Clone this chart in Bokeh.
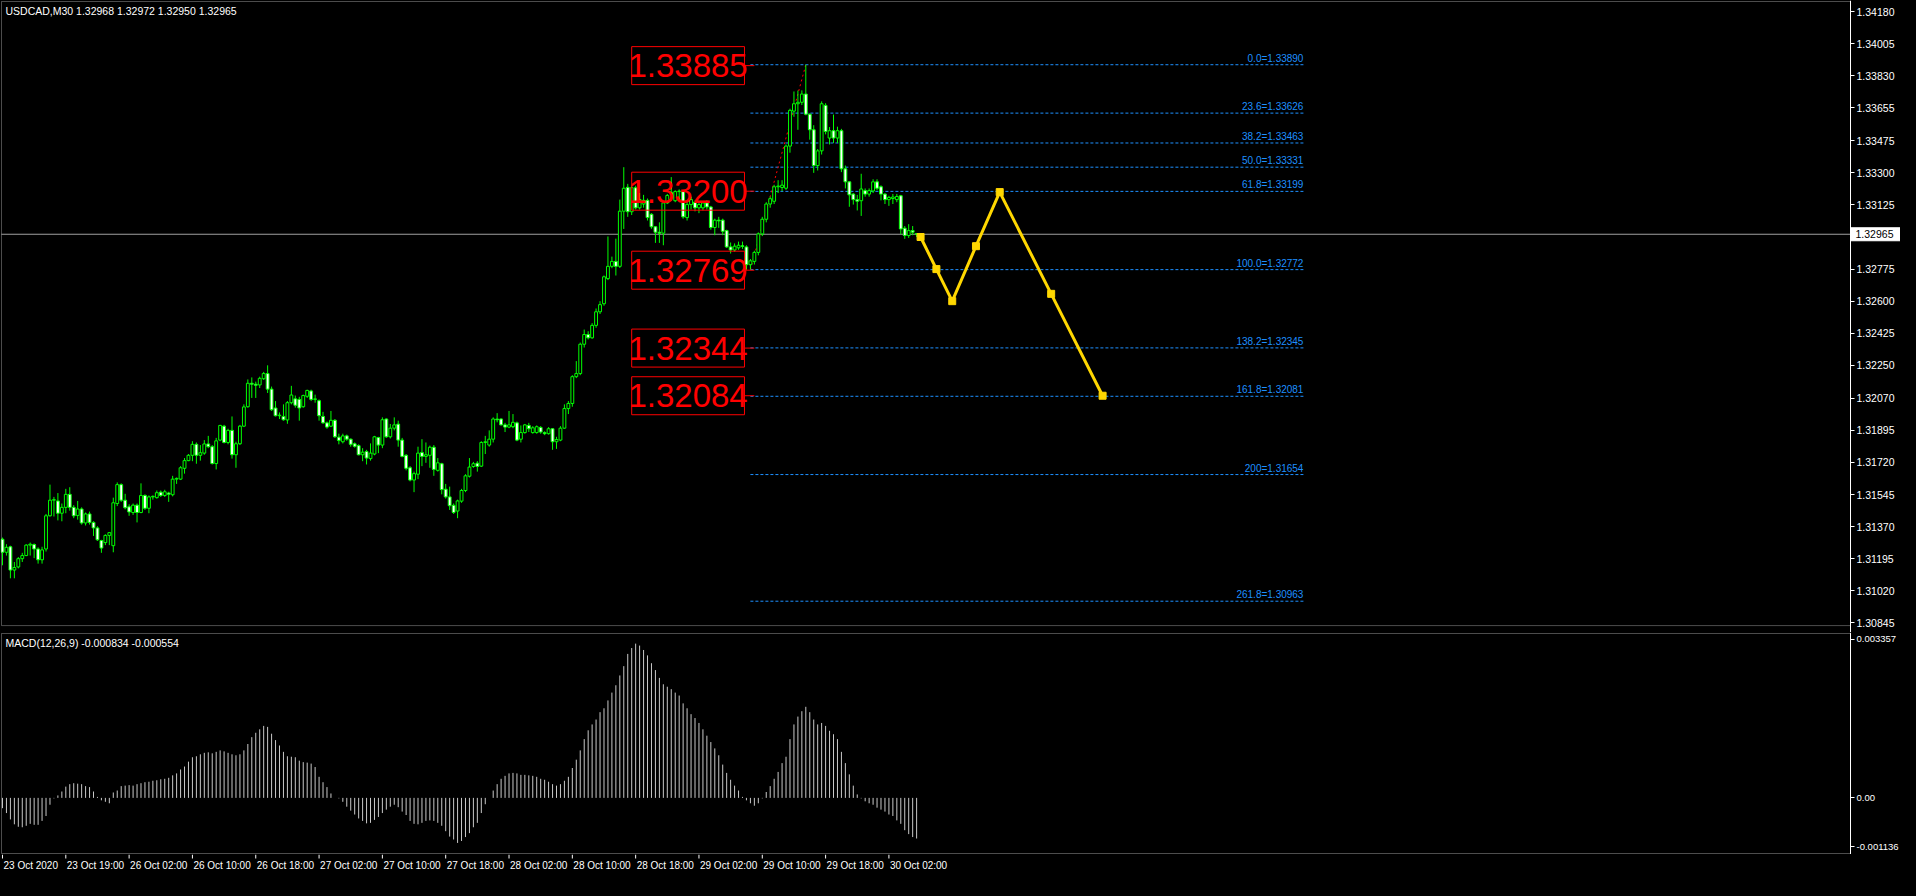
from bokeh.plotting import figure
from bokeh.models import (Range1d, FixedTicker, PrintfTickFormatter, ColumnDataSource,
                          LinearAxis, BoxAnnotation)
from bokeh.layouts import column
from bokeh.embed import file_html
from bokeh.resources import INLINE
from bokeh.core.properties import value

FONT = "Liberation Sans"

SYMBOL_TITLE = "USDCAD,M30  1.32968 1.32972 1.32950 1.32965"
MACD_TITLE = "MACD(12,26,9) -0.000834 -0.000554"

OPEN = [
    1.31301, 1.31230, 1.31260, 1.31133, 1.31150, 1.31195, 1.31212, 1.31269, 1.31272, 1.31248,
    1.31189, 1.31248, 1.31429, 1.31514, 1.31510, 1.31443, 1.31475, 1.31546, 1.31475, 1.31431,
    1.31466, 1.31390, 1.31439, 1.31393, 1.31363, 1.31294, 1.31283, 1.31322, 1.31266, 1.31496,
    1.31599, 1.31514, 1.31478, 1.31447, 1.31487, 1.31447, 1.31540, 1.31470, 1.31532, 1.31528,
    1.31558, 1.31540, 1.31553, 1.31544, 1.31629, 1.31629, 1.31688, 1.31730, 1.31759, 1.31819,
    1.31759, 1.31771, 1.31821, 1.31806, 1.31714, 1.31842, 1.31918, 1.31829, 1.31895, 1.31762,
    1.31822, 1.31918, 1.32024, 1.32152, 1.32147, 1.32143, 1.32177, 1.32205, 1.32120, 1.32017,
    1.31975, 1.31971, 1.31952, 1.32046, 1.32067, 1.32064, 1.32024, 1.32081, 1.32110, 1.32064,
    1.32057, 1.31971, 1.31936, 1.31918, 1.31950, 1.31858, 1.31833, 1.31865, 1.31847, 1.31822,
    1.31812, 1.31762, 1.31780, 1.31741, 1.31766, 1.31856, 1.31815, 1.31957, 1.31860, 1.31907,
    1.31929, 1.31842, 1.31759, 1.31691, 1.31624, 1.31656, 1.31774, 1.31753, 1.31759, 1.31803,
    1.31677, 1.31713, 1.31574, 1.31532, 1.31486, 1.31455, 1.31509, 1.31567, 1.31645, 1.31698,
    1.31716, 1.31700, 1.31829, 1.31815, 1.31847, 1.31957, 1.31957, 1.31925, 1.31913, 1.31915,
    1.31936, 1.31847, 1.31883, 1.31922, 1.31883, 1.31883, 1.31911, 1.31883, 1.31877, 1.31904,
    1.31833, 1.31842, 1.31907, 1.32014, 1.32042, 1.32188, 1.32205, 1.32365, 1.32418, 1.32400,
    1.32468, 1.32542, 1.32586, 1.32723, 1.32790, 1.32817, 1.32790, 1.33091, 1.33221, 1.33088,
    1.33219, 1.33109, 1.33130, 1.33150, 1.33074, 1.33006, 1.32976, 1.32971, 1.33136, 1.33184,
    1.33148, 1.33198, 1.33198, 1.33056, 1.33127, 1.33141, 1.33109, 1.33109, 1.33136, 1.33114,
    1.33002, 1.33042, 1.33042, 1.32985, 1.32896, 1.32879, 1.32891, 1.32902, 1.32896, 1.32799,
    1.32817, 1.32866, 1.32967, 1.33047, 1.33130, 1.33145, 1.33224, 1.33220, 1.33216, 1.33446,
    1.33637, 1.33677, 1.33685, 1.33730, 1.33620, 1.33535, 1.33340, 1.33420, 1.33668, 1.33490,
    1.33530, 1.33490, 1.33530, 1.33322, 1.33251, 1.33184, 1.33154, 1.33148, 1.33203, 1.33184,
    1.33201, 1.33251, 1.33224, 1.33184, 1.33154, 1.33160, 1.33154, 1.33175, 1.32998, 1.32958,
    1.32985, 1.32968,
]

HIGH = [
    1.31310, 1.31274, 1.31266, 1.31177, 1.31204, 1.31227, 1.31274, 1.31283, 1.31278, 1.31257,
    1.31260, 1.31439, 1.31599, 1.31532, 1.31553, 1.31496, 1.31576, 1.31585, 1.31487, 1.31510,
    1.31475, 1.31447, 1.31452, 1.31399, 1.31372, 1.31298, 1.31328, 1.31340, 1.31528, 1.31611,
    1.31606, 1.31549, 1.31492, 1.31496, 1.31496, 1.31606, 1.31546, 1.31540, 1.31540, 1.31567,
    1.31567, 1.31571, 1.31560, 1.31647, 1.31638, 1.31700, 1.31744, 1.31766, 1.31836, 1.31829,
    1.31815, 1.31842, 1.31865, 1.31815, 1.31854, 1.31925, 1.31925, 1.31904, 1.31971, 1.31833,
    1.31925, 1.32037, 1.32173, 1.32184, 1.32161, 1.32188, 1.32214, 1.32250, 1.32134, 1.32055,
    1.31993, 1.32037, 1.32055, 1.32138, 1.32085, 1.32078, 1.32090, 1.32117, 1.32117, 1.32090,
    1.32064, 1.31996, 1.31943, 1.32001, 1.31957, 1.31877, 1.31877, 1.31872, 1.31851, 1.31829,
    1.31819, 1.31798, 1.31789, 1.31824, 1.31865, 1.31860, 1.31966, 1.31961, 1.31930, 1.31966,
    1.31948, 1.31854, 1.31766, 1.31700, 1.31670, 1.31806, 1.31847, 1.31829, 1.31812, 1.31815,
    1.31744, 1.31718, 1.31603, 1.31588, 1.31496, 1.31517, 1.31576, 1.31656, 1.31744, 1.31723,
    1.31727, 1.31836, 1.31865, 1.31895, 1.31966, 1.31989, 1.31961, 1.31936, 1.32001, 1.31984,
    1.31943, 1.31922, 1.31930, 1.31936, 1.31918, 1.31922, 1.31918, 1.31890, 1.31913, 1.31907,
    1.31860, 1.31918, 1.32037, 1.32055, 1.32196, 1.32273, 1.32374, 1.32445, 1.32436, 1.32480,
    1.32560, 1.32600, 1.32740, 1.32953, 1.32843, 1.32941, 1.33154, 1.33331, 1.33240, 1.33235,
    1.33230, 1.33190, 1.33180, 1.33160, 1.33080, 1.33010, 1.33030, 1.33145, 1.33185, 1.33277,
    1.33205, 1.33210, 1.33205, 1.33140, 1.33170, 1.33150, 1.33140, 1.33145, 1.33150, 1.33120,
    1.33050, 1.33060, 1.33050, 1.32990, 1.32920, 1.32915, 1.32925, 1.32925, 1.32905, 1.32830,
    1.32875, 1.32975, 1.33060, 1.33140, 1.33170, 1.33235, 1.33260, 1.33260, 1.33455, 1.33650,
    1.33744, 1.33749, 1.33750, 1.33890, 1.33625, 1.33560, 1.33430, 1.33690, 1.33680, 1.33550,
    1.33618, 1.33552, 1.33540, 1.33340, 1.33255, 1.33190, 1.33180, 1.33295, 1.33215, 1.33215,
    1.33265, 1.33265, 1.33232, 1.33190, 1.33175, 1.33185, 1.33185, 1.33180, 1.33010, 1.33020,
    1.33010, 1.32972,
]

LOW = [
    1.31159, 1.31212, 1.31088, 1.31088, 1.31142, 1.31177, 1.31209, 1.31212, 1.31198, 1.31168,
    1.31168, 1.31234, 1.31425, 1.31425, 1.31404, 1.31399, 1.31443, 1.31457, 1.31416, 1.31408,
    1.31381, 1.31376, 1.31381, 1.31319, 1.31292, 1.31227, 1.31269, 1.31269, 1.31230, 1.31482,
    1.31505, 1.31464, 1.31429, 1.31434, 1.31393, 1.31443, 1.31461, 1.31443, 1.31517, 1.31523,
    1.31532, 1.31532, 1.31505, 1.31535, 1.31603, 1.31624, 1.31659, 1.31727, 1.31727, 1.31713,
    1.31730, 1.31762, 1.31798, 1.31709, 1.31682, 1.31836, 1.31824, 1.31819, 1.31741, 1.31691,
    1.31815, 1.31913, 1.32019, 1.32072, 1.32072, 1.32126, 1.32170, 1.32099, 1.32001, 1.31971,
    1.31957, 1.31948, 1.31931, 1.32037, 1.32019, 1.31948, 1.32019, 1.32072, 1.32055, 1.32046,
    1.31948, 1.31931, 1.31904, 1.31913, 1.31854, 1.31819, 1.31824, 1.31838, 1.31806, 1.31801,
    1.31759, 1.31727, 1.31709, 1.31730, 1.31759, 1.31771, 1.31798, 1.31854, 1.31851, 1.31895,
    1.31806, 1.31748, 1.31677, 1.31617, 1.31558, 1.31629, 1.31700, 1.31718, 1.31691, 1.31647,
    1.31670, 1.31546, 1.31523, 1.31461, 1.31439, 1.31416, 1.31500, 1.31558, 1.31638, 1.31691,
    1.31670, 1.31695, 1.31766, 1.31806, 1.31829, 1.31939, 1.31922, 1.31886, 1.31907, 1.31907,
    1.31836, 1.31829, 1.31877, 1.31886, 1.31877, 1.31877, 1.31877, 1.31869, 1.31872, 1.31789,
    1.31794, 1.31836, 1.31904, 1.31984, 1.32024, 1.32180, 1.32196, 1.32347, 1.32391, 1.32395,
    1.32455, 1.32530, 1.32575, 1.32715, 1.32780, 1.32740, 1.32781, 1.32994, 1.33060, 1.33070,
    1.33100, 1.33100, 1.33110, 1.33040, 1.32995, 1.32918, 1.32918, 1.32905, 1.33130, 1.33150,
    1.33140, 1.33140, 1.33050, 1.33040, 1.33100, 1.33090, 1.33080, 1.33095, 1.33100, 1.32990,
    1.32960, 1.33000, 1.32960, 1.32890, 1.32860, 1.32870, 1.32880, 1.32885, 1.32772, 1.32772,
    1.32800, 1.32850, 1.32955, 1.33030, 1.33110, 1.33130, 1.33190, 1.33200, 1.33207, 1.33410,
    1.33606, 1.33535, 1.33670, 1.33614, 1.33481, 1.33300, 1.33313, 1.33400, 1.33510, 1.33455,
    1.33463, 1.33463, 1.33304, 1.33215, 1.33115, 1.33127, 1.33095, 1.33065, 1.33170, 1.33170,
    1.33190, 1.33205, 1.33150, 1.33130, 1.33120, 1.33130, 1.33140, 1.32966, 1.32940, 1.32945,
    1.32960, 1.32950,
]

CLOSE = [
    1.31230, 1.31257, 1.31133, 1.31147, 1.31195, 1.31212, 1.31269, 1.31274, 1.31248, 1.31189,
    1.31243, 1.31429, 1.31514, 1.31517, 1.31443, 1.31475, 1.31546, 1.31475, 1.31429, 1.31466,
    1.31390, 1.31439, 1.31393, 1.31363, 1.31298, 1.31253, 1.31322, 1.31337, 1.31500, 1.31599,
    1.31514, 1.31473, 1.31450, 1.31487, 1.31447, 1.31540, 1.31470, 1.31532, 1.31535, 1.31555,
    1.31540, 1.31560, 1.31546, 1.31629, 1.31633, 1.31691, 1.31730, 1.31759, 1.31819, 1.31759,
    1.31773, 1.31821, 1.31806, 1.31714, 1.31838, 1.31922, 1.31829, 1.31895, 1.31762, 1.31822,
    1.31918, 1.32023, 1.32152, 1.32147, 1.32141, 1.32179, 1.32205, 1.32120, 1.32008, 1.31975,
    1.31978, 1.31953, 1.32046, 1.32088, 1.32032, 1.32017, 1.32085, 1.32113, 1.32064, 1.32067,
    1.31975, 1.31936, 1.31913, 1.31950, 1.31860, 1.31840, 1.31865, 1.31847, 1.31819, 1.31808,
    1.31762, 1.31776, 1.31744, 1.31771, 1.31860, 1.31815, 1.31953, 1.31860, 1.31907, 1.31925,
    1.31842, 1.31753, 1.31688, 1.31624, 1.31659, 1.31771, 1.31753, 1.31762, 1.31803, 1.31682,
    1.31718, 1.31572, 1.31532, 1.31484, 1.31447, 1.31510, 1.31567, 1.31647, 1.31695, 1.31713,
    1.31698, 1.31829, 1.31833, 1.31847, 1.31957, 1.31953, 1.31925, 1.31913, 1.31925, 1.31939,
    1.31842, 1.31883, 1.31925, 1.31904, 1.31909, 1.31915, 1.31886, 1.31877, 1.31904, 1.31833,
    1.31845, 1.31907, 1.32014, 1.32042, 1.32188, 1.32205, 1.32365, 1.32418, 1.32400, 1.32468,
    1.32542, 1.32581, 1.32733, 1.32790, 1.32817, 1.32790, 1.33091, 1.33216, 1.33088, 1.33219,
    1.33109, 1.33155, 1.33150, 1.33056, 1.33006, 1.32976, 1.32971, 1.33136, 1.33177, 1.33194,
    1.33198, 1.33201, 1.33060, 1.33127, 1.33154, 1.33109, 1.33127, 1.33136, 1.33114, 1.33002,
    1.33042, 1.33038, 1.32981, 1.32896, 1.32879, 1.32900, 1.32905, 1.32898, 1.32799, 1.32820,
    1.32866, 1.32967, 1.33047, 1.33130, 1.33159, 1.33224, 1.33228, 1.33233, 1.33446, 1.33641,
    1.33677, 1.33685, 1.33730, 1.33620, 1.33535, 1.33340, 1.33420, 1.33677, 1.33526, 1.33530,
    1.33490, 1.33530, 1.33322, 1.33251, 1.33180, 1.33154, 1.33145, 1.33212, 1.33184, 1.33203,
    1.33251, 1.33216, 1.33184, 1.33154, 1.33166, 1.33168, 1.33171, 1.32994, 1.32958, 1.32985,
    1.32976, 1.32965,
]

MACD_HIST = [
    -0.00021, -0.00031, -0.00044, -0.00054, -0.00059, -0.00060, -0.00057, -0.00053, -0.00055, -0.00055,
    -0.00047, -0.00037, -0.00014, -0.00001, 0.00005, 0.00013, 0.00023, 0.00028, 0.00030, 0.00029,
    0.00028, 0.00024, 0.00022, 0.00013, 0.00002, -0.00005, -0.00008, -0.00011, 0.00011, 0.00015,
    0.00024, 0.00025, 0.00026, 0.00025, 0.00028, 0.00030, 0.00032, 0.00033, 0.00035, 0.00036,
    0.00038, 0.00039, 0.00041, 0.00046, 0.00050, 0.00058, 0.00064, 0.00074, 0.00083, 0.00085,
    0.00089, 0.00092, 0.00093, 0.00091, 0.00094, 0.00097, 0.00095, 0.00092, 0.00089, 0.00087,
    0.00089, 0.00097, 0.00110, 0.00124, 0.00133, 0.00140, 0.00147, 0.00145, 0.00131, 0.00118,
    0.00107, 0.00094, 0.00085, 0.00084, 0.00083, 0.00076, 0.00073, 0.00072, 0.00070, 0.00063,
    0.00043, 0.00032, 0.00022, 0.00009, 0.00000, -0.00001, -0.00008, -0.00018, -0.00026, -0.00034,
    -0.00042, -0.00047, -0.00052, -0.00051, -0.00045, -0.00039, -0.00031, -0.00024, -0.00018, -0.00014,
    -0.00019, -0.00028, -0.00035, -0.00047, -0.00053, -0.00054, -0.00051, -0.00047, -0.00046, -0.00047,
    -0.00051, -0.00057, -0.00068, -0.00079, -0.00085, -0.00092, -0.00088, -0.00080, -0.00072, -0.00060,
    -0.00051, -0.00031, -0.00013, 0.00000, 0.00015, 0.00028, 0.00039, 0.00045, 0.00050, 0.00051,
    0.00050, 0.00047, 0.00047, 0.00046, 0.00045, 0.00043, 0.00039, 0.00037, 0.00033, 0.00028,
    0.00025, 0.00028, 0.00035, 0.00043, 0.00061, 0.00078, 0.00097, 0.00120, 0.00138, 0.00150,
    0.00160, 0.00175, 0.00183, 0.00199, 0.00215, 0.00230, 0.00250, 0.00269, 0.00294, 0.00306,
    0.00315, 0.00311, 0.00302, 0.00291, 0.00275, 0.00261, 0.00245, 0.00232, 0.00227, 0.00222,
    0.00215, 0.00209, 0.00193, 0.00183, 0.00171, 0.00163, 0.00153, 0.00140, 0.00127, 0.00114,
    0.00101, 0.00087, 0.00068, 0.00051, 0.00037, 0.00025, 0.00015, 0.00002, -0.00005, -0.00011,
    -0.00016, -0.00011, -0.00001, 0.00012, 0.00024, 0.00039, 0.00053, 0.00071, 0.00084, 0.00120,
    0.00150, 0.00166, 0.00177, 0.00186, 0.00175, 0.00160, 0.00150, 0.00153, 0.00147, 0.00137,
    0.00130, 0.00120, 0.00094, 0.00071, 0.00048, 0.00025, 0.00007, -0.00001, -0.00007, -0.00011,
    -0.00014, -0.00020, -0.00024, -0.00028, -0.00034, -0.00037, -0.00046, -0.00053, -0.00066, -0.00074,
    -0.00080, -0.00083,
]

TIME_TICK_BARS = [0, 16, 32, 48, 64, 80, 96, 112, 128, 144, 160, 176, 192, 208, 224]
TIME_LABELS = ["23 Oct 2020", "23 Oct 19:00", "26 Oct 02:00", "26 Oct 10:00", "26 Oct 18:00",
               "27 Oct 02:00", "27 Oct 10:00", "27 Oct 18:00", "28 Oct 02:00", "28 Oct 10:00",
               "28 Oct 18:00", "29 Oct 02:00", "29 Oct 10:00", "29 Oct 18:00", "30 Oct 02:00"]

PRICE_TICKS = [1.34180, 1.34005, 1.33830, 1.33655, 1.33475, 1.33300, 1.33125, 1.32775,
               1.32600, 1.32425, 1.32250, 1.32070, 1.31895, 1.31720, 1.31545, 1.31370,
               1.31195, 1.31020, 1.30845]
CURRENT_PRICE = 1.32965

MACD_MIN, MACD_MAX = -0.001136, 0.003357
MACD_TICK_LABELS = ["0.003357", "0.00", "-0.001136"]

FIB_PCT = ["0.0", "23.6", "38.2", "50.0", "61.8", "100.0", "138.2", "161.8", "200", "261.8"]
FIB_PRICE = [1.33890, 1.33626, 1.33463, 1.33331, 1.33199, 1.32772, 1.32345, 1.32081, 1.31654, 1.30963]
FIB_START_BAR = 189
FIB_END_BAR = 328.75
TREND_BARS = [189, 203]
TREND_PRICES = [1.32772, 1.33890]

BOX_TEXTS = ["1.33885", "1.33200", "1.32769", "1.32344", "1.32084"]
BOX_LEFT_BAR, BOX_RIGHT_BAR, CONNECT_END_BAR = 159.0, 187.5, 190.0

ZZ_BARS = [232, 236, 240, 246, 252, 265, 278]
ZZ_PRICES = [1.32950, 1.32775, 1.32600, 1.32900, 1.33195, 1.32640, 1.32084]

# chart window (bars) and price window
X_MIN, X_MAX = -0.25, 467.0
Y_MIN, Y_MAX = 1.30830, 1.34235

# geometry: one frame spans chart + price scale; the scale is drawn inside it
FRAME_W = 1900
SCALE_PX = 50
X_END = X_MIN + (X_MAX - X_MIN) * FRAME_W / (FRAME_W - SCALE_PX)
X_START = X_MIN - (X_MAX - X_MIN) / (FRAME_W - SCALE_PX)          # 1px left margin
MAIN_H, MACD_H = 632, 222
Y_PAD = (Y_MAX - Y_MIN) / MAIN_H
M_PAD = (MACD_MAX - MACD_MIN) / MACD_H
MACD_TICK_POS = [MACD_MAX - 6 * M_PAD, 0.0, MACD_MIN + 7 * M_PAD]

BULL_FILL, BEAR_FILL, CANDLE_LINE = "black", "white", "#00FF00"
FIB_COLOR = "#1E90FF"
GOLD = "#FFD700"

n = len(CLOSE)
bars = list(range(n))
src = ColumnDataSource(dict(
    x=bars, o=OPEN, h=HIGH, l=LOW, c=CLOSE,
    top=[max(a, b) for a, b in zip(OPEN, CLOSE)],
    bot=[min(a, b) for a, b in zip(OPEN, CLOSE)],
    fill=[BEAR_FILL if c < o else BULL_FILL for o, c in zip(OPEN, CLOSE)],
))


def style_axis(ax, size="10.5px"):
    ax.axis_line_color = "white"
    ax.major_tick_line_color = "white"
    ax.minor_tick_line_color = None
    ax.major_tick_out = 4
    ax.major_tick_in = 0
    ax.major_label_text_color = "white"
    ax.major_label_text_font = FONT
    ax.major_label_text_font_size = size
    ax.major_label_standoff = 2


def base_fig(h, y0, y1, x_range=None):
    f = figure(frame_width=FRAME_W, frame_height=h,
               x_range=x_range if x_range is not None else Range1d(X_START, X_END),
               y_range=Range1d(y0, y1),
               output_backend="svg", toolbar_location=None,
               x_axis_location=None, y_axis_location=None,
               background_fill_color="black", border_fill_color="black",
               outline_line_color=None,
               min_border_left=0, min_border_top=0, min_border_bottom=0, min_border_right=0)
    f.grid.visible = False
    return f


# ---------------- main price panel ----------------
p = base_fig(MAIN_H, Y_MIN - 7 * Y_PAD, Y_MAX + Y_PAD)
price_axis = LinearAxis(fixed_location=X_MAX, ticker=FixedTicker(ticks=PRICE_TICKS),
                        formatter=PrintfTickFormatter(format="%.5f"))
style_axis(price_axis)
p.add_layout(price_axis, "right")
p.add_layout(BoxAnnotation(left=X_MIN, right=X_MAX, bottom=Y_MIN, top=Y_MAX,
                           fill_alpha=0, line_color="white", line_width=1))

# current price line and tag
p.segment(x0=[X_MIN], y0=[CURRENT_PRICE], x1=[X_MAX], y1=[CURRENT_PRICE],
          line_color="#a0a0a0", line_width=1)
p.rect(x=[(X_MAX + X_END) / 2], y=[CURRENT_PRICE], width=X_END - X_MAX, height=13,
       height_units="screen", fill_color="white", line_color="white")
p.text(x=[X_MAX], y=[CURRENT_PRICE], text=[f"{CURRENT_PRICE:.5f}"], text_align="left",
       text_baseline="middle", x_offset=5, text_font=value(FONT), text_font_size="10.5px",
       text_color="black")

# fibonacci levels
p.segment(x0=[FIB_START_BAR] * len(FIB_PRICE), y0=FIB_PRICE,
          x1=[FIB_END_BAR] * len(FIB_PRICE), y1=FIB_PRICE,
          line_color=FIB_COLOR, line_width=1, line_dash="3 2")
p.text(x=[FIB_END_BAR] * len(FIB_PRICE), y=FIB_PRICE,
       text=[f"{a}={b:.5f}" for a, b in zip(FIB_PCT, FIB_PRICE)],
       text_align="right", text_baseline="bottom", y_offset=-1,
       text_font=value(FONT), text_font_size="10px", text_color=FIB_COLOR)
p.line(TREND_BARS, TREND_PRICES, line_color="red", line_width=1, line_dash="2 3")

# candles
p.segment(x0="x", y0="h", x1="x", y1="l", source=src, line_color=CANDLE_LINE, line_width=1)
p.vbar(x="x", top="top", bottom="bot", width=0.72, source=src,
       fill_color="fill", line_color=CANDLE_LINE, line_width=1)

# red price boxes
box_prices = [float(t) for t in BOX_TEXTS]
box_center = (BOX_LEFT_BAR + BOX_RIGHT_BAR) / 2
p.rect(x=[box_center] * 5, y=box_prices, width=BOX_RIGHT_BAR - BOX_LEFT_BAR,
       height=38, height_units="screen", fill_alpha=0, line_color="red", line_width=1)
p.segment(x0=[BOX_RIGHT_BAR] * 5, y0=box_prices, x1=[CONNECT_END_BAR] * 5, y1=box_prices,
          line_color="red", line_width=1)
p.text(x=[box_center] * 5, y=box_prices, text=BOX_TEXTS, text_align="center",
       text_baseline="middle", text_font=value(FONT), text_font_size="33px", text_color="red")

# yellow projection
p.line(ZZ_BARS, ZZ_PRICES, line_color=GOLD, line_width=3)
p.scatter(ZZ_BARS, ZZ_PRICES, marker="square", size=7, fill_color=GOLD, line_color=GOLD)

# title
p.text(x=[X_MIN], y=[Y_MAX], text=[SYMBOL_TITLE], text_align="left", text_baseline="top",
       x_offset=4, y_offset=4, text_font=value(FONT), text_font_size="10.5px", text_color="white")

# ---------------- MACD panel ----------------
m = base_fig(MACD_H, MACD_MIN - M_PAD, MACD_MAX + M_PAD, x_range=p.x_range)
macd_axis = LinearAxis(fixed_location=X_MAX, ticker=FixedTicker(ticks=MACD_TICK_POS))
style_axis(macd_axis, size="9.5px")
macd_axis.major_label_overrides = {v: t for v, t in zip(MACD_TICK_POS, MACD_TICK_LABELS)}
m.add_layout(macd_axis, "right")
m.add_layout(BoxAnnotation(left=X_MIN, right=X_MAX, bottom=MACD_MIN, top=MACD_MAX,
                           fill_alpha=0, line_color="white", line_width=1))
m.segment(x0=bars, y0=[0.0] * n, x1=bars, y1=MACD_HIST, line_color="#C8C8C8", line_width=1)
m.text(x=[X_MIN], y=[MACD_MAX], text=[MACD_TITLE], text_align="left", text_baseline="top",
       x_offset=4, y_offset=4, text_font=value(FONT), text_font_size="10.5px", text_color="white")

# ---------------- time axis strip ----------------
t = base_fig(22, 0, 22, x_range=p.x_range)
t.segment(x0=TIME_TICK_BARS, y0=[22] * len(TIME_TICK_BARS), x1=TIME_TICK_BARS,
          y1=[18] * len(TIME_TICK_BARS), line_color="white", line_width=1)
t.text(x=TIME_TICK_BARS, y=[11] * len(TIME_TICK_BARS), text=TIME_LABELS, text_align="left",
       text_baseline="middle", x_offset=1, text_font=value(FONT), text_font_size="10px",
       text_color="white")

layout = column(p, m, t, spacing=0, background="black")
html = file_html(layout, INLINE)
html = html.replace("</head>", "<style>html,body{background:#000000;}</style></head>")
open("out.html", "w").write(html)
